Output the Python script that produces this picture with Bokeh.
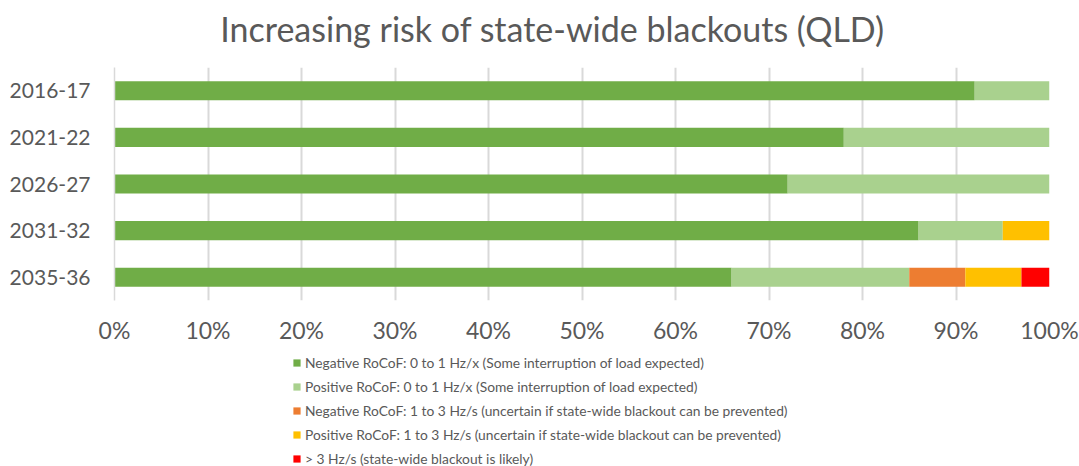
from bokeh.plotting import figure
from bokeh.layouts import column
from bokeh.models import (Range1d, FactorRange, FixedTicker, PrintfTickFormatter,
                          Legend, LegendItem, ColumnDataSource, Label)
from bokeh.embed import file_html
from bokeh.resources import INLINE

categories = ["2016-17", "2021-22", "2026-27", "2031-32", "2035-36"]
neg_0_1 = [92, 78, 72, 86, 66]
pos_0_1 = [8, 22, 28, 9, 19]
neg_1_3 = [0, 0, 0, 0, 6]
pos_1_3 = [0, 0, 0, 5, 6]
above_3 = [0, 0, 0, 0, 3]

series_names = ["neg_0_1", "pos_0_1", "neg_1_3", "pos_1_3", "above_3"]
series_labels = [
    "Negative RoCoF: 0 to 1 Hz/x (Some interruption of load expected)",
    "Positive RoCoF: 0 to 1 Hz/x (Some interruption of load expected)",
    "Negative RoCoF: 1 to 3 Hz/s (uncertain if state-wide blackout can be prevented)",
    "Positive RoCoF: 1 to 3 Hz/s (uncertain if state-wide blackout can be prevented)",
    "> 3 Hz/s (state-wide blackout is likely)",
]
colors = ["#70AD47", "#A9D18E", "#ED7D31", "#FFC000", "#FF0000"]
x_ticks = [0, 10, 20, 30, 40, 50, 60, 70, 80, 90, 100]
title_text = "Increasing risk of state-wide blackouts (QLD)"


def blank_figure(height):
    f = figure(width=1079, height=height, output_backend="svg",
               toolbar_location=None, x_range=Range1d(0, 1), y_range=Range1d(0, 1),
               min_border_left=114, min_border_right=30, min_border_top=0,
               min_border_bottom=0)
    f.outline_line_color = None
    f.axis.visible = False
    f.grid.visible = False
    f.background_fill_color = "white"
    f.border_fill_color = "white"
    return f


# title strip
p0 = blank_figure(67)
p0.add_layout(Label(x=438, y=39, x_units="screen", y_units="screen",
                    text=title_text, text_align="center",
                    text_baseline="alphabetic", text_font="Lato",
                    text_font_size="34px", text_color="#595959"))

# main chart
source = ColumnDataSource(dict(cat=categories, neg_0_1=neg_0_1, pos_0_1=pos_0_1,
                               neg_1_3=neg_1_3, pos_1_3=pos_1_3, above_3=above_3))

p = figure(width=1079, height=279, output_backend="svg", toolbar_location=None,
           x_range=Range1d(0, 100), y_range=FactorRange(*reversed(categories)),
           min_border_left=114, min_border_right=30, min_border_top=0,
           min_border_bottom=46)
p.outline_line_color = None
p.background_fill_color = "white"
p.border_fill_color = "white"

renderers = p.hbar_stack(series_names, y="cat", height=0.41, color=colors,
                         line_color=None, source=source)

p.xaxis.ticker = FixedTicker(ticks=x_ticks)
p.xaxis.formatter = PrintfTickFormatter(format="%d%%")
p.xaxis.axis_line_color = None
p.xaxis.major_tick_line_color = None
p.xaxis.minor_tick_line_color = None
p.xaxis.major_label_text_font = "Lato"
p.xaxis.major_label_text_font_size = "23px"
p.xaxis.major_label_text_color = "#595959"
p.xaxis.major_label_standoff = 9

p.yaxis.axis_line_color = "#d9d9d9"
p.yaxis.axis_line_width = 1.5
p.yaxis.major_tick_line_color = None
p.yaxis.minor_tick_line_color = None
p.yaxis.major_label_text_font = "Lato"
p.yaxis.major_label_text_font_size = "21px"
p.yaxis.major_label_text_color = "#595959"
p.yaxis.major_label_standoff = 18

p.ygrid.grid_line_color = None
p.xgrid.grid_line_color = "#d9d9d9"
p.xgrid.grid_line_width = 2

# legend strip
p2 = blank_figure(120)
# zero-size stand-in glyphs, only used to give each legend entry its swatch colour
legend_renderers = [p2.hbar(y=[0], left=[0], right=[0], height=0, color=c,
                            line_color=None) for c in colors]
items = [LegendItem(label=lab, renderers=[r])
         for lab, r in zip(series_labels, legend_renderers)]
legend = Legend(items=items, location=(178, -2), orientation="vertical",
                padding=0, margin=0, spacing=4, label_height=20, glyph_height=9,
                glyph_width=9, label_standoff=4, border_line_color=None,
                background_fill_alpha=0, label_text_font="Lato",
                label_text_font_size="13.8px", label_text_color="#595959")
p2.add_layout(legend, "center")

layout = column(p0, p, p2, spacing=0)
open("out.html", "w").write(file_html(layout, INLINE))
